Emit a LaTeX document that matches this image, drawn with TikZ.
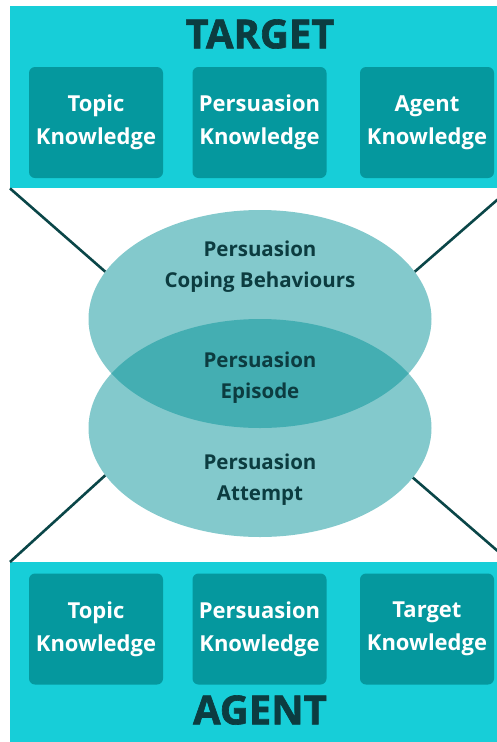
\documentclass[tikz,border=0pt]{standalone}
\usepackage{fontspec}
\setmainfont{Open Sans}[BoldFont={* Bold}]
\newfontfamily\heavyfont{Open Sans Bold}[FakeBold=1.6]
\usetikzlibrary{shapes.geometric}
\definecolor{panelc}{RGB}{23,206,216}
\definecolor{boxc}{RGB}{5,152,158}
\definecolor{ellc}{RGB}{3,146,152}
\definecolor{darkc}{RGB}{12,60,64}
\definecolor{linec}{RGB}{10,70,72}
\tikzset{
  panel/.style={draw=none, fill=panelc, minimum width=500pt, minimum height=188pt, inner sep=0pt, anchor=north west},
  kbox/.style={fill=boxc, rounded corners=6pt, minimum width=134pt, minimum height=111pt, inner sep=0pt,
    text=white, font=\fontsize{22}{33}\selectfont\bfseries, align=center},
  ell/.style={ellipse, fill=ellc, fill opacity=0.49, draw=none, minimum width=343pt, minimum height=218pt, inner sep=0pt},
  etext/.style={text=darkc, font=\fontsize{20.5}{31}\selectfont\bfseries, align=center},
  ktext/.style={text=white, font=\fontsize{22}{33}\selectfont\bfseries, align=center},
  title/.style={text=darkc, font=\fontsize{40}{40}\selectfont\heavyfont},
  conn/.style={draw=linec, line width=2.6pt}
}
\begin{document}
\begin{tikzpicture}[x=1pt,y=-1pt]
\useasboundingbox (0,0) rectangle (497,742);
\clip (0,0) rectangle (497,742);
\fill[white] (0,0) rectangle (497,742);
% panels
\node[panel, minimum height=182pt] (tp) at (10,6) {};
\node[panel] (bp) at (10,562) {};
% titles
\node[title] (tt) at (260,34) {TARGET};
\node[title] (at) at (260,710) {AGENT};
% boxes
\node[kbox, label={[ktext]center:{Topic\\Knowledge}}] (t1) at (96,122.5) {};
\node[kbox, label={[ktext]center:{Persuasion\\Knowledge}}] (t2) at (259.5,122.5) {};
\node[kbox, label={[ktext]center:{Agent\\Knowledge}}] (t3) at (427,122.5) {};
\node[kbox, label={[ktext]center:{Topic\\Knowledge}}] (a1) at (96,629) {};
\node[kbox, label={[ktext]center:{Persuasion\\Knowledge}}] (a2) at (259.5,629) {};
\node[kbox, label={[ktext]center:{Target\\Knowledge}}] (a3) at (427,629) {};
% ellipses
\node[ell] (e1) at (260,319) {};
\node[ell] (e2) at (260,428) {};
% connectors
\draw[conn] (tp.south west) -- (e1.163);
\draw[conn] (tp.south east) -- (e1.17);
\draw[conn] (bp.north west) -- (e2.197);
\draw[conn] (bp.north east) -- (e2.342);
% ellipse texts
\node[etext] (x1) at (260,267) {Persuasion\\Coping Behaviours};
\node[etext] (x2) at (260,378) {Persuasion\\Episode};
\node[etext] (x3) at (260,480) {Persuasion\\Attempt};
\end{tikzpicture}
\end{document}
